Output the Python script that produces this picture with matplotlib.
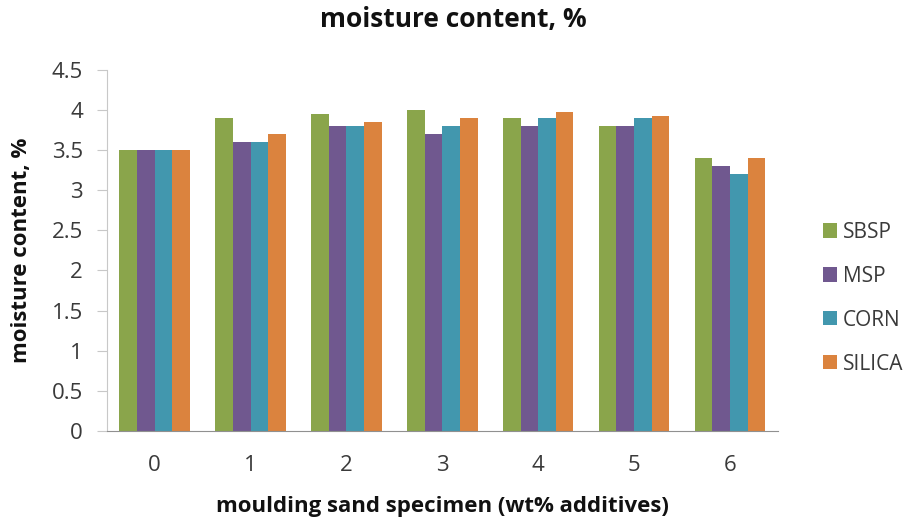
import numpy as np
import matplotlib
matplotlib.use("Agg")
import matplotlib.pyplot as plt

# moisture content (%) per specimen, one list per additive
specimens = ["0", "1", "2", "3", "4", "5", "6"]
sbsp = [3.5, 3.9, 3.95, 4.0, 3.9, 3.8, 3.4]
msp = [3.5, 3.6, 3.8, 3.7, 3.8, 3.8, 3.3]
corn = [3.5, 3.6, 3.8, 3.8, 3.9, 3.9, 3.2]
silica = [3.5, 3.7, 3.85, 3.9, 3.97, 3.92, 3.4]

series = [("SBSP", sbsp, "#8aa54b"), ("MSP", msp, "#70588f"),
          ("CORN", corn, "#4297ae"), ("SILICA", silica, "#db833e")]

plt.rcParams['font.family'] = ['Open Sans', 'DejaVu Sans']

fig = plt.figure(figsize=(9.12, 5.25), dpi=100)
ax = fig.add_axes([0.117, 0.179, 0.736, 0.688])

x = np.arange(len(specimens))
w = 0.184
for i, (name, vals, col) in enumerate(series):
    ax.bar(x + (i - 1.5) * w, vals, width=w, color=col, label=name)

ax.set_xlim(-0.5, len(specimens) - 0.5)
ax.set_ylim(0, 4.5)
ax.set_yticks(np.arange(0, 4.51, 0.5))
ax.set_yticklabels(["0", "0.5", "1", "1.5", "2", "2.5", "3", "3.5", "4", "4.5"])
ax.set_xticks(x)
ax.set_xticklabels(specimens)

for s in ["top", "right"]:
    ax.spines[s].set_visible(False)
ax.spines["left"].set_color("#c8c8c8")
ax.spines["bottom"].set_color("#909090")
ax.tick_params(axis="y", length=7, color="#c8c8c8", labelsize=16, labelcolor="#3a3a3a", pad=10)
ax.tick_params(axis="x", length=0, labelsize=16, labelcolor="#3a3a3a", pad=17)

fig.text(0.497, 1 - 20 / 525, "moisture content, %", fontsize=19, fontweight="bold",
         ha="center", va="center", color="#111111")
ax.set_ylabel("moisture content, %", fontsize=16, fontweight="bold", color="#111111")
ax.yaxis.label.set_va("center")
ax.yaxis.set_label_coords(-0.127, 0.5)
ax.set_xlabel("moulding sand specimen (wt% additives)", fontsize=16, fontweight="bold", color="#111111")
ax.xaxis.label.set_va("center")
ax.xaxis.set_label_coords(0.5, -0.21)

leg = ax.legend(loc="center left", bbox_to_anchor=(0.902, 0.432), bbox_transform=fig.transFigure,
                frameon=False, fontsize=15, borderpad=0, borderaxespad=0,
                handlelength=0.67, handleheight=0.67, handletextpad=0.3, labelspacing=1.1)
for t in leg.get_texts():
    t.set_color("#3a3a3a")

fig.savefig("out.png", dpi=100)
